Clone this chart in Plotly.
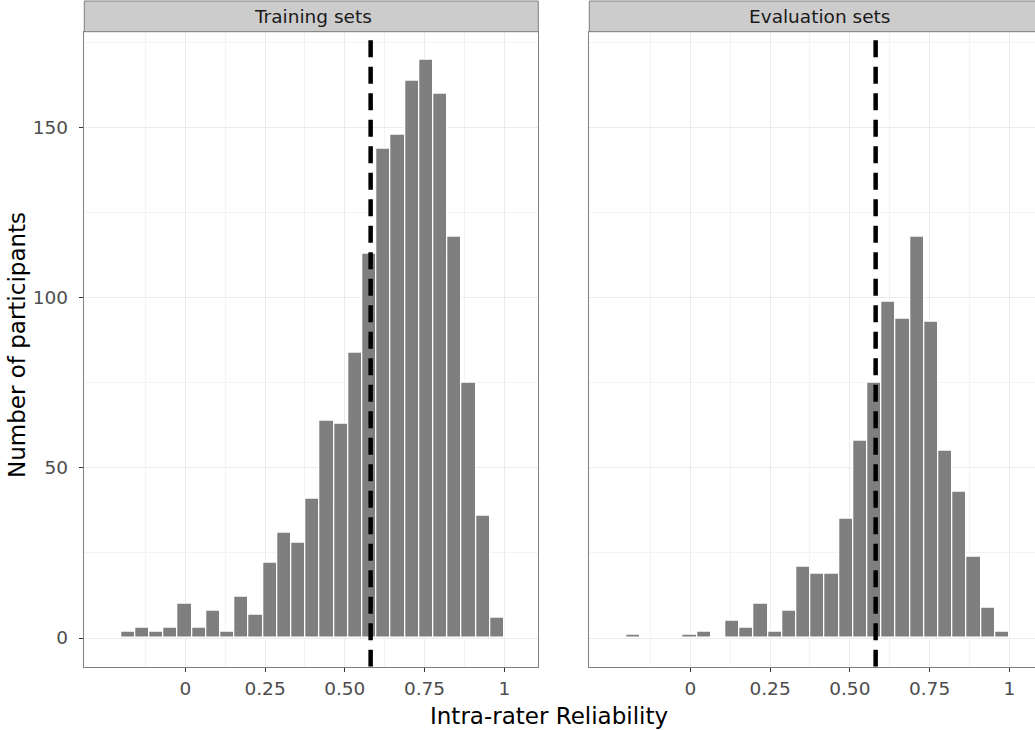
import plotly.graph_objects as go

# ---- data ----
bin_width = 0.0445
bin_centers = [-0.2238, -0.1793, -0.1348, -0.0903, -0.0458, -0.0013, 0.0432, 0.0877,
               0.1322, 0.1767, 0.2212, 0.2657, 0.3102, 0.3547, 0.3992, 0.4437,
               0.4882, 0.5327, 0.5772, 0.6217, 0.6662, 0.7107, 0.7552, 0.7997,
               0.8442, 0.8887, 0.9332, 0.9777, 1.0222]
training_counts = [0, 2, 3, 2, 3, 10, 3, 8, 2, 12, 7, 22, 31, 28, 41,
                   64, 63, 84, 113, 144, 148, 164, 170, 160, 118, 75, 36, 6, 0]
evaluation_counts = [0, 1, 0, 0, 0, 1, 2, 0, 5, 3, 10, 2, 8, 21, 19,
                     19, 35, 58, 75, 99, 94, 118, 93, 55, 43, 24, 9, 2, 0]
panel_titles = ["Training sets", "Evaluation sets"]
threshold = 0.581
x_tickvals = [0, 0.25, 0.5, 0.75, 1]
x_ticktext = ["0", "0.25", "0.50", "0.75", "1"]
x_minor = [-0.125, 0.125, 0.375, 0.625, 0.875]
y_tickvals = [0, 50, 100, 150]
y_minor = [25, 75, 125, 175]
x_title = "Intra-rater Reliability"
y_title = "Number of participants"

# ---- layout geometry (pixels) ----
W, H = 1035, 730
FONT = "DejaVu Sans"
BORDER = "#7F7F7F"
GRID = "#EBEBEB"
GRID_MINOR = "#F3F3F3"
TICK_SIZE = 18.5
TITLE_SIZE = 23

def px_x(p):
    return p / W

def px_y(p):
    return (H - p) / H

left_dom = [px_x(84.3), px_x(538.3)]
right_dom = [px_x(589.3), 1.0]
y_dom = [px_y(666.7), px_y(31.7)]
x_range_left = [-0.3166, 1.1066]
x_range_right = [-0.3166, (W - 690.3) / 319.0]
y_range = [-8.44, 178.3]

fig = go.Figure()
for counts, xa, ya in [(training_counts, "x", "y"), (evaluation_counts, "x2", "y2")]:
    fig.add_trace(go.Bar(
        x=bin_centers, y=counts, width=bin_width,
        marker=dict(color="#7F7F7F", line=dict(color="white", width=1.3)),
        xaxis=xa, yaxis=ya, showlegend=False, hoverinfo="x+y",
    ))

common_x = dict(
    tickvals=x_tickvals, ticktext=x_ticktext, ticks="outside", ticklen=4.5,
    tickcolor="#333333", tickwidth=1,
    tickfont=dict(family=FONT, size=TICK_SIZE, color="#4D4D4D"),
    showgrid=True, gridcolor=GRID, gridwidth=1.1, zeroline=False,
    minor=dict(tickvals=x_minor, showgrid=True, gridcolor=GRID_MINOR, gridwidth=0.7, ticks=""),
    showline=True, linecolor=BORDER, linewidth=1, mirror=True,
    ticklabelstandoff=1,
)
common_y = dict(
    range=y_range, domain=y_dom, tickvals=y_tickvals,
    showgrid=True, gridcolor=GRID, gridwidth=1.1, zeroline=False,
    minor=dict(tickvals=y_minor, showgrid=True, gridcolor=GRID_MINOR, gridwidth=0.7, ticks=""),
    showline=True, linecolor=BORDER, linewidth=1,
)

fig.update_layout(
    width=W, height=H, margin=dict(l=0, r=0, t=0, b=0),
    paper_bgcolor="white", plot_bgcolor="white",
    bargap=0,
    xaxis=dict(domain=left_dom, range=x_range_left, anchor="y", **common_x),
    xaxis2=dict(domain=right_dom, range=x_range_right, anchor="y2", **common_x),
    yaxis=dict(anchor="x", mirror=True, ticks="outside", ticklen=4.5, tickcolor="#333333",
               tickfont=dict(family=FONT, size=TICK_SIZE, color="#4D4D4D"), ticklabelstandoff=7,
               **common_y),
    yaxis2=dict(anchor="x2", mirror=False, ticks="", showticklabels=False, **common_y),
)

shapes = []
# dashed reference lines
for xa, ya in [("x", "y"), ("x2", "y2")]:
    shapes.append(dict(type="line", xref=xa, yref=ya, x0=threshold, x1=threshold,
                       y0=y_range[0], y1=y_range[1],
                       line=dict(color="black", width=4.5, dash="17px,9.5px"), layer="above"))
# strips
strip_y0, strip_y1 = px_y(31.7), px_y(1.0)
for x0, x1 in [(84.3, 538.3), (589.3, 1043.3)]:
    shapes.append(dict(type="rect", xref="paper", yref="paper", x0=px_x(x0), x1=px_x(x1),
                       y0=strip_y0, y1=strip_y1, fillcolor="#CCCCCC",
                       line=dict(color=BORDER, width=1), layer="above"))
fig.update_layout(shapes=shapes)

annotations = []
for title, cx in zip(panel_titles, [312.5, 819.0]):
    annotations.append(dict(text=title, xref="paper", yref="paper", x=px_x(cx), y=px_y(16.3),
                            showarrow=False, xanchor="center", yanchor="middle",
                            font=dict(family=FONT, size=TICK_SIZE, color="#1A1A1A")))
annotations.append(dict(text=x_title, xref="paper", yref="paper", x=px_x(549), y=px_y(716),
                        showarrow=False, xanchor="center", yanchor="middle",
                        font=dict(family=FONT, size=TITLE_SIZE, color="black")))
annotations.append(dict(text=y_title, xref="paper", yref="paper", x=px_x(17), y=px_y(345),
                        showarrow=False, xanchor="center", yanchor="middle", textangle=-90,
                        font=dict(family=FONT, size=TITLE_SIZE, color="black")))
fig.update_layout(annotations=annotations)

fig.write_html("out.html", config={"displayModeBar": False},
               post_script="document.body.style.margin='0px';document.body.style.overflow='hidden';")
